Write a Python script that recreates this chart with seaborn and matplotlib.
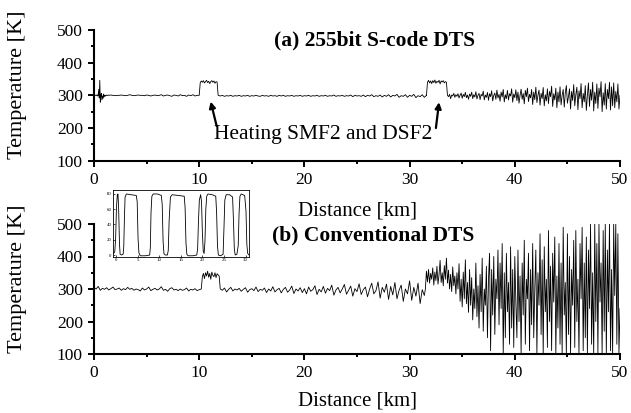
import numpy as np
import pandas as pd
import matplotlib
matplotlib.use("Agg")
import matplotlib.pyplot as plt
from matplotlib.ticker import MultipleLocator
import seaborn as sns

# ---------------- data: panel (a) 255bit S-code DTS ----------------
# each segment: (start km, end km, temperatures sampled evenly across it)
a_seg0_range = (0.0, 1.4)
a_seg0 = [300, 300, 301, 300, 299, 300, 302, 298, 300, 318, 292, 346, 279, 301, 306,
          286, 298, 291, 304, 295, 301, 297, 300, 299, 301, 300, 300, 301, 300]
a_seg1_range = (1.4, 10.0)
a_seg1 = [300, 301, 300, 299, 300, 300, 301, 300, 299, 300,
          302, 300, 299, 300, 301, 300, 300, 299, 301, 300,
          298, 300, 301, 299, 300, 302, 298, 300, 301, 299,
          297, 301, 300, 298, 302, 299, 300, 297, 301, 299,
          302, 298, 300, 300]
a_heat1_range = (10.0, 11.8)
a_heat1 = [300, 339, 344, 340, 345, 338, 342, 346, 339, 343, 336, 342, 345, 340, 344, 337,
           342, 341, 301]
a_seg2_range = (11.8, 31.6)
a_seg2 = [300, 298, 300, 297, 299, 298, 300, 297, 299, 298,
          300, 297, 299, 298, 300, 297, 299, 298, 300, 298,
          297, 300, 298, 299, 297, 300, 298, 299, 297, 300,
          298, 300, 297, 299, 298, 300, 297, 299, 298, 300,
          297, 299, 298, 300, 297, 299, 298, 300, 297, 299,
          298, 300, 297, 299, 298, 301, 297, 299, 298, 300,
          297, 299, 298, 301, 296, 300, 298, 299, 297, 301,
          296, 300, 298, 302, 296, 299, 297, 301, 295, 300,
          297, 302, 295, 300, 298, 303, 294, 299, 297, 302,
          294, 300, 297, 303, 293, 299, 296, 302, 294, 300]
a_heat2_range = (31.6, 33.6)
a_heat2 = [299, 340, 346, 338, 344, 336, 345, 339, 347, 337, 343, 340, 346, 335, 344,
           341, 345, 338, 342, 340, 300]
a_seg3_range = (33.7, 50.0)
a_seg3 = [296, 303, 290, 301, 298, 306, 294, 302, 297, 305,
          292, 300, 307, 291, 303, 296, 309, 293, 301, 288,
          304, 297, 310, 290, 302, 295, 311, 289, 300, 306,
          287, 303, 298, 313, 286, 301, 294, 309, 285, 305,
          296, 314, 283, 300, 307, 288, 316, 292, 303, 282,
          310, 295, 318, 280, 302, 290, 315, 286, 305, 298,
          320, 279, 304, 293, 317, 284, 310, 276, 300, 319,
          288, 306, 274, 315, 296, 322, 281, 303, 292, 318,
          272, 310, 287, 325, 278, 300, 316, 270, 306, 290,
          324, 268, 302, 283, 320, 275, 312, 296, 328, 266,
          305, 286, 322, 262, 310, 280, 326, 271, 300, 318,
          264, 308, 330, 276, 296, 320, 258, 312, 284, 333,
          268, 302, 325, 256, 314, 290, 336, 262, 306, 280,
          330, 254, 300, 338, 266, 318, 285, 340, 252, 310,
          275, 335, 260, 322, 296, 342, 250, 308, 270, 336,
          258, 318, 290, 340, 255, 326, 268, 338, 262, 312,
          280, 335, 258, 300]

# ---------------- data: panel (b) Conventional DTS ----------------
b_seg0_range = (0.0, 10.2)
b_seg0 = [305, 300, 308, 296, 302, 299, 304, 297, 301, 306, 298,
          300, 303, 296, 301, 298, 305, 299, 302, 296, 300,
          298, 294, 303, 297, 300, 306, 295, 299, 302, 297,
          300, 307, 296, 299, 293, 301, 304, 297, 299, 295,
          300, 296, 298, 303, 294, 299, 297, 301, 295, 298, 300]
b_heat_range = (10.2, 12.0)
b_heat = [300, 338, 348, 332, 350, 340, 355, 336, 348, 330, 352, 342, 338, 350, 335,
          347, 343, 340, 300]
b_seg1_range = (12.0, 31.4)
b_seg1 = [300, 296, 303, 291, 299, 305, 294, 300, 297, 302,
          293, 299, 304, 290, 298, 301, 295, 306, 292, 299,
          296, 303, 289, 300, 294, 307, 291, 298, 302, 288,
          299, 305, 290, 297, 309, 286, 300, 294, 304, 289,
          301, 285, 306, 293, 298, 310, 283, 299, 291, 308,
          287, 302, 295, 312, 281, 297, 305, 288, 300, 314,
          284, 296, 309, 278, 301, 292, 316, 283, 298, 306,
          276, 300, 318, 285, 295, 322, 272, 305, 290, 315,
          268, 308, 282, 320, 270, 296, 312, 262, 300, 285,
          325, 265, 305, 278, 318, 255, 298, 280]
b_seg2_range = (31.5, 50.0)
b_seg2 = [300, 355, 322, 360, 318, 348, 330, 365, 312, 352, 326,
          370, 315, 345, 388, 320, 350, 310, 372, 330, 395,
          318, 358, 300, 345, 292, 368, 310, 340, 285, 350,
          300, 378, 262, 330, 245, 352, 270, 390, 255, 320,
          228, 360, 250, 335, 205, 300, 240, 380, 215, 310,
          180, 345, 230, 395, 170, 300, 250, 370, 150, 330,
          410, 110, 360, 220, 400, 160, 330, 270, 420, 190,
          380, 240, 440, 100, 350, 150, 410, 230, 320, 130,
          430, 180, 360, 120, 400, 260, 150, 420, 200, 340,
          100, 380, 220, 450, 130, 330, 270, 410, 110, 360,
          190, 440, 150, 300, 420, 100, 350, 250, 470, 160,
          390, 100, 430, 230, 330, 120, 480, 200, 370, 110,
          410, 260, 460, 100, 340, 180, 440, 130, 380, 100,
          490, 220, 320, 100, 470, 160, 400, 100, 360, 250,
          450, 120, 480, 200, 330, 100, 440, 270, 490, 110,
          380, 150, 460, 100, 420, 240, 500, 130, 350, 100,
          500, 200, 440, 100, 500, 260, 380, 100, 480, 170,
          500, 100, 420, 230, 500, 110, 360, 100, 500, 280,
          500, 130, 470, 100, 240]

# ---------------- data: inset (S-code pattern) ----------------
ins_x = [-0.6, -0.3, -0.1, 0.1, 0.3, 0.45, 0.6, 0.8, 0.95, 1.3, 1.65, 1.8, 1.95, 2.1, 2.4,
         3.5, 4.7, 4.9, 5.1, 5.3, 5.6, 6.8, 7.8, 7.95, 8.1, 8.3, 8.6, 9.6, 10.5, 10.7,
         10.9, 11.1, 11.4, 11.9, 12.1, 12.3, 12.6, 13.0, 14.5, 15.8, 16.0, 16.2, 16.4,
         16.7, 17.8, 18.7, 18.9, 19.1, 19.3, 19.6, 19.8, 20.0, 20.2, 20.4, 20.6, 20.8,
         21.0, 21.3, 22.3, 23.1, 23.3, 23.5, 23.7, 24.2, 24.8, 25.0, 25.2, 25.5, 26.3,
         27.0, 27.2, 27.4, 27.6, 28.0, 28.3, 28.5, 28.7, 29.0, 29.8, 30.1, 30.3, 30.5, 30.8]
ins_y = [2, 4, 20, 62, 79, 80, 62, 15, 1, 0, 1, 12, 50, 76, 80,
         79, 78, 70, 22, 3, -1, -1, 0, 10, 55, 77, 80, 80, 78, 66,
         18, 2, 0, 0, 6, 45, 76, 79, 78, 77, 62, 16, 1,
         -1, -1, 0, 8, 45, 72, 79, 70, 30, 5, 2, 18, 60,
         77, 80, 79, 77, 55, 12, 0, -1, 1, 35, 72, 79, 79,
         76, 45, 8, 0, 1, 12, 55, 77, 80, 78, 58, 14, 2, 0]

x_ticks = [0, 10, 20, 30, 40, 50]
y_ticks = [100, 200, 300, 400, 500]
ins_xticks = [0, 5, 10, 15, 20, 25, 30]
ins_yticks = [0, 20, 40, 60, 80]


def build(segments):
    xs, ys = [], []
    for (start, end), vals in segments:
        xs.extend(np.linspace(start, end, len(vals)))
        ys.extend(vals)
    return pd.DataFrame({"Distance": xs, "Temperature": ys})


df_a = build([(a_seg0_range, a_seg0), (a_seg1_range, a_seg1), (a_heat1_range, a_heat1),
              (a_seg2_range, a_seg2), (a_heat2_range, a_heat2), (a_seg3_range, a_seg3)])
df_b = build([(b_seg0_range, b_seg0), (b_heat_range, b_heat),
              (b_seg1_range, b_seg1), (b_seg2_range, b_seg2)])
df_in = pd.DataFrame({"x": ins_x, "y": ins_y})

sns.set_theme(style="white")
plt.rcParams["font.family"] = ["Liberation Serif", "DejaVu Serif"]

W, H = 631, 413
fig = plt.figure(figsize=(W / 100, H / 100), dpi=100)
ax_a = fig.add_axes([94 / W, 1 - 160.7 / H, 526 / W, 130.7 / H])
ax_b = fig.add_axes([94 / W, 1 - 354 / H, 526 / W, 130 / H])

for ax, df in ((ax_a, df_a), (ax_b, df_b)):
    sns.lineplot(data=df, x="Distance", y="Temperature", ax=ax, color="black",
                 linewidth=0.6, estimator=None, sort=False)
    ax.set_xlim(0, 50)
    ax.set_ylim(100, 500)
    ax.set_xticks(x_ticks)
    ax.set_yticks(y_ticks)
    ax.xaxis.set_minor_locator(MultipleLocator(5))
    ax.yaxis.set_minor_locator(MultipleLocator(50))
    for s in ("top", "right"):
        ax.spines[s].set_visible(False)
    for s in ("left", "bottom"):
        ax.spines[s].set_color("black")
        ax.spines[s].set_linewidth(1.5)
    ax.tick_params(which="both", bottom=True, left=True, direction="out",
                   color="black", width=1.4)
    ax.tick_params(which="major", length=4, pad=4, labelsize=12.5, labelcolor="black")
    ax.tick_params(which="minor", length=2.5)
    ax.set_xlabel("Distance [km]", fontsize=15, color="black")
    ax.set_ylabel("Temperature [K]", fontsize=16, color="black")
    ax.yaxis.set_label_coords(-0.127, 0.58)

ax_a.xaxis.set_label_coords(0.5, -0.31)
ax_b.xaxis.set_label_coords(0.5, -0.29)

ax_a.text(0.534, 0.916, "(a) 255bit S-code DTS", transform=ax_a.transAxes,
          ha="center", va="center", fontsize=15.5, fontweight="bold", color="black")
ax_b.text(0.530, 0.915, "(b) Conventional DTS", transform=ax_b.transAxes,
          ha="center", va="center", fontsize=15.5, fontweight="bold", color="black")

ax_a.text(11.4, 180, "Heating SMF2 and DSF2", ha="left", va="center",
          fontsize=15.5, color="black")
arrow = dict(arrowstyle="-|>", color="black", lw=1.6, mutation_scale=9,
             shrinkA=0, shrinkB=0)
ax_a.annotate("", xy=(11.09, 281), xytext=(11.66, 206), arrowprops=arrow)
ax_a.annotate("", xy=(32.8, 279), xytext=(32.5, 200), arrowprops=arrow)

# inset
ax_in = fig.add_axes([113 / W, 1 - 257 / H, 136 / W, 67 / H])
sns.lineplot(data=df_in, x="x", y="y", ax=ax_in, color="black", linewidth=0.6,
             estimator=None, sort=False)
ax_in.set_xlim(-0.7, 30.8)
ax_in.set_ylim(-2.6, 85.2)
ax_in.set_xticks(ins_xticks)
ax_in.set_yticks(ins_yticks)
ax_in.set_xlabel("")
ax_in.set_ylabel("")
for s in ax_in.spines.values():
    s.set_color("black")
    s.set_linewidth(0.6)
ax_in.tick_params(which="both", bottom=True, left=True, direction="in", length=1.5,
                  width=0.5, pad=1, labelsize=3.5, labelcolor="black", color="black")

fig.savefig("out.png", dpi=100)
